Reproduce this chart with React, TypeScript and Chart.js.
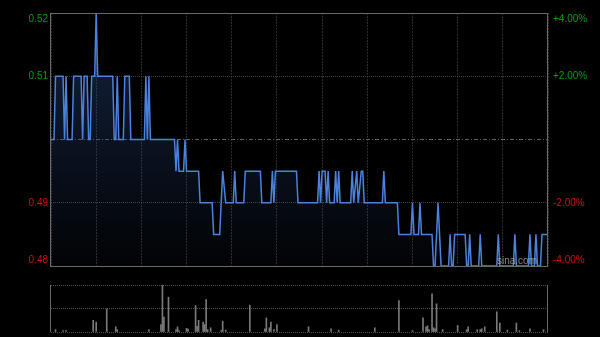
import React, { useEffect, useRef } from 'react';
import { Chart, registerables } from 'chart.js';

Chart.register(...registerables);

const prevClose = 0.5;
const sessionMinutes = 330;
const timeTicks = [0, 30, 60, 90, 120, 150, 180, 210, 240, 270, 300, 330];

const priceTicks = [0.52, 0.51, 0.5, 0.49, 0.48];
const leftLabels = ['0.52', '0.51', '', '0.49', '0.48'];
const rightLabels = ['+4.00%', '+2.00%', '', '-2.00%', '-4.00%'];

const priceMinutes = [
  0, 2, 3, 8, 9, 10, 11, 14, 15, 20, 21, 22, 24, 25, 26, 27, 29, 30, 31, 41,
  42, 43, 44, 45, 48, 49, 52, 53, 62, 63, 64, 65, 66, 82, 83, 84, 85, 88, 89, 90,
  98, 99, 107, 108, 112, 114, 116, 121, 122, 123, 128, 129, 139, 140, 146, 147, 148, 149, 163, 164,
  177, 178, 179, 180, 182, 183, 184, 185, 188, 189, 190, 191, 192, 199, 200, 201, 203, 204, 206, 207,
  208, 220, 221, 222, 230, 231, 239, 240, 241, 244, 245, 246, 253, 254, 255, 257, 259, 264, 265, 266,
  267, 268, 275, 276, 277, 278, 279, 284, 285, 286, 296, 297, 298, 307, 308, 309, 317, 318, 319, 321,
  322, 323, 325, 326, 330,
];
const prices = [
  0.5, 0.5, 0.51, 0.51, 0.5, 0.51, 0.5, 0.5, 0.51, 0.51, 0.5, 0.51, 0.51, 0.5, 0.5, 0.51, 0.51, 0.52, 0.51, 0.51,
  0.5, 0.5, 0.51, 0.5, 0.5, 0.51, 0.51, 0.5, 0.5, 0.51, 0.5, 0.51, 0.5, 0.5, 0.495, 0.5, 0.495, 0.495, 0.5, 0.495,
  0.495, 0.49, 0.49, 0.485, 0.485, 0.495, 0.49, 0.49, 0.495, 0.49, 0.49, 0.495, 0.495, 0.49, 0.49, 0.495, 0.49, 0.495, 0.495, 0.49,
  0.49, 0.495, 0.49, 0.495, 0.495, 0.49, 0.495, 0.49, 0.49, 0.495, 0.49, 0.495, 0.49, 0.49, 0.495, 0.49, 0.495, 0.49, 0.495, 0.495,
  0.49, 0.49, 0.495, 0.49, 0.49, 0.485, 0.485, 0.49, 0.485, 0.485, 0.49, 0.485, 0.485, 0.48, 0.48, 0.49, 0.48, 0.48, 0.485, 0.48,
  0.48, 0.485, 0.485, 0.48, 0.48, 0.485, 0.48, 0.48, 0.485, 0.48, 0.48, 0.485, 0.48, 0.48, 0.485, 0.48, 0.48, 0.485, 0.48, 0.48,
  0.485, 0.48, 0.48, 0.485, 0.485,
];

const volMinutes = [
  3, 8, 10, 28, 30, 37, 43, 44, 65, 73, 74, 75, 78, 83, 84, 85, 90, 91, 96, 97,
  98, 101, 102, 103, 104, 106, 113, 114, 116, 132, 142, 143, 145, 146, 148, 150, 171, 186, 191, 215,
  231, 240, 247, 249, 250, 251, 253, 254, 255, 256, 260, 270, 276, 277, 283, 285, 286, 288, 296, 298,
  303, 309, 311, 318, 327,
];
const volumes = [
  5, 3, 3, 25, 21, 49, 11, 5, 5, 16, 100, 32, 74, 5, 11, 3, 8, 6, 56, 12,
  25, 21, 16, 69, 5, 9, 3, 23, 4, 57, 7, 30, 9, 21, 5, 16, 11, 7, 4, 9,
  67, 3, 30, 11, 13, 5, 81, 9, 7, 60, 5, 14, 5, 11, 5, 5, 7, 11, 43, 19,
  4, 19, 3, 7, 5,
];
const volTicks = [0, 50, 100];

const FONT = '10px "Liberation Sans", Arial, sans-serif';
const UP = '#00a000';
const DOWN = '#d01010';

const mainOverlay = {
  id: 'mainOverlay',
  afterDraw(chart: any) {
    const { ctx, chartArea: ca } = chart;
    const y = chart.scales.y;
    ctx.save();
    ctx.strokeStyle = '#6a6a6a';
    ctx.lineWidth = 1;
    ctx.setLineDash([]);
    ctx.strokeRect(Math.round(ca.left) - 0.5, Math.round(ca.top) + 0.5, Math.round(ca.right - ca.left), Math.round(ca.bottom - ca.top));
    ctx.font = FONT;
    ctx.textBaseline = 'middle';
    priceTicks.forEach((v, i) => {
      let py = y.getPixelForValue(v);
      py = Math.max(ca.top + 6, Math.min(ca.bottom - 6, py));
      const col = v > prevClose ? UP : DOWN;
      ctx.fillStyle = col;
      ctx.textAlign = 'right';
      if (leftLabels[i]) ctx.fillText(leftLabels[i], ca.left - 3, py);
      ctx.textAlign = 'left';
      if (rightLabels[i]) ctx.fillText(rightLabels[i], ca.right + 5, py);
    });
    ctx.fillStyle = 'rgba(190,190,190,0.7)';
    ctx.textAlign = 'right';
    ctx.fillText('sina.com', ca.right - 11, ca.bottom - 4.5);
    ctx.restore();
  },
};

const volOverlay = {
  id: 'volOverlay',
  afterDraw(chart: any) {
    const { ctx, chartArea: ca } = chart;
    ctx.save();
    ctx.strokeStyle = '#6a6a6a';
    ctx.lineWidth = 1;
    ctx.beginPath();
    ctx.moveTo(Math.round(ca.left) - 0.5, ca.top);
    ctx.lineTo(Math.round(ca.left) - 0.5, ca.bottom);
    ctx.moveTo(Math.round(ca.right) - 0.5, ca.top);
    ctx.lineTo(Math.round(ca.right) - 0.5, ca.bottom);
    ctx.stroke();
    ctx.restore();
  },
};

export default function App() {
  const mainRef = useRef<HTMLCanvasElement>(null);
  const volRef = useRef<HTMLCanvasElement>(null);

  useEffect(() => {
    const main = new Chart(mainRef.current as HTMLCanvasElement, {
      type: 'line',
      data: {
        datasets: [
          {
            data: priceMinutes.map((m, i) => ({ x: m, y: prices[i] })),
            borderColor: '#4a82de',
            borderWidth: 1.5,
            pointRadius: 0,
            tension: 0,
            fill: 'start',
            backgroundColor: (c: any) => {
              const ca = c.chart.chartArea;
              if (!ca) return 'transparent';
              const g = c.chart.ctx.createLinearGradient(0, ca.top, 0, ca.bottom);
              g.addColorStop(0, 'rgba(40,70,125,0.5)');
              g.addColorStop(1, 'rgba(40,70,125,0.04)');
              return g;
            },
          },
        ],
      },
      options: {
        responsive: false,
        animation: false,
        events: [],
        layout: { padding: { top: 13, bottom: 9, left: 0, right: 52 } },
        plugins: { legend: { display: false }, tooltip: { enabled: false } },
        scales: {
          x: {
            type: 'linear',
            min: 0,
            max: sessionMinutes,
            afterBuildTicks: (s: any) => {
              s.ticks = timeTicks.map((v) => ({ value: v }));
            },
            ticks: { display: false },
            grid: { color: '#2c2c2c', drawTicks: false, lineWidth: 1 },
            border: { display: false, dash: [2, 1] },
          },
          y: {
            type: 'linear',
            min: 0.48,
            max: 0.52,
            afterBuildTicks: (s: any) => {
              s.ticks = priceTicks.map((v) => ({ value: v }));
            },
            afterFit: (s: any) => {
              s.width = 51;
            },
            ticks: { display: false },
            grid: {
              drawTicks: false,
              lineWidth: 1,
              color: (c: any) => (c.tick && Math.abs(c.tick.value - prevClose) < 1e-9 ? '#606060' : '#444444'),
            },
            border: {
              display: false,
              dash: (c: any) => (c.tick && Math.abs(c.tick.value - prevClose) < 1e-9 ? [4, 2, 1, 2] : [1, 1]),
            },
          },
        },
      } as any,
      plugins: [mainOverlay],
    });

    const vol = new Chart(volRef.current as HTMLCanvasElement, {
      type: 'bar',
      data: {
        datasets: [
          {
            data: volMinutes.map((m, i) => ({ x: m, y: volumes[i] })),
            backgroundColor: '#7a7a7a',
            barThickness: 1,
            borderWidth: 0,
          },
        ],
      },
      options: {
        responsive: false,
        animation: false,
        events: [],
        layout: { padding: { top: 10, bottom: 5, left: 0, right: 52 } },
        plugins: { legend: { display: false }, tooltip: { enabled: false } },
        scales: {
          x: { type: 'linear', min: 0, max: sessionMinutes, offset: false, display: false },
          y: {
            type: 'linear',
            min: 0,
            max: 100,
            afterBuildTicks: (s: any) => {
              s.ticks = volTicks.map((v) => ({ value: v }));
            },
            afterFit: (s: any) => {
              s.width = 51;
            },
            ticks: { display: false },
            grid: { drawTicks: false, color: '#505050', lineWidth: 1 },
            border: { display: false, dash: [1, 1] },
          },
        },
      } as any,
      plugins: [volOverlay],
    });

    return () => {
      main.destroy();
      vol.destroy();
    };
  }, []);

  return (
    <div style={{ position: 'fixed', left: 0, top: 0, width: 600, height: 337, background: '#000' }}>
      <canvas ref={mainRef} width={600} height={275} style={{ position: 'absolute', left: 0, top: 0 }} />
      <canvas ref={volRef} width={600} height={62} style={{ position: 'absolute', left: 0, top: 275 }} />
    </div>
  );
}
